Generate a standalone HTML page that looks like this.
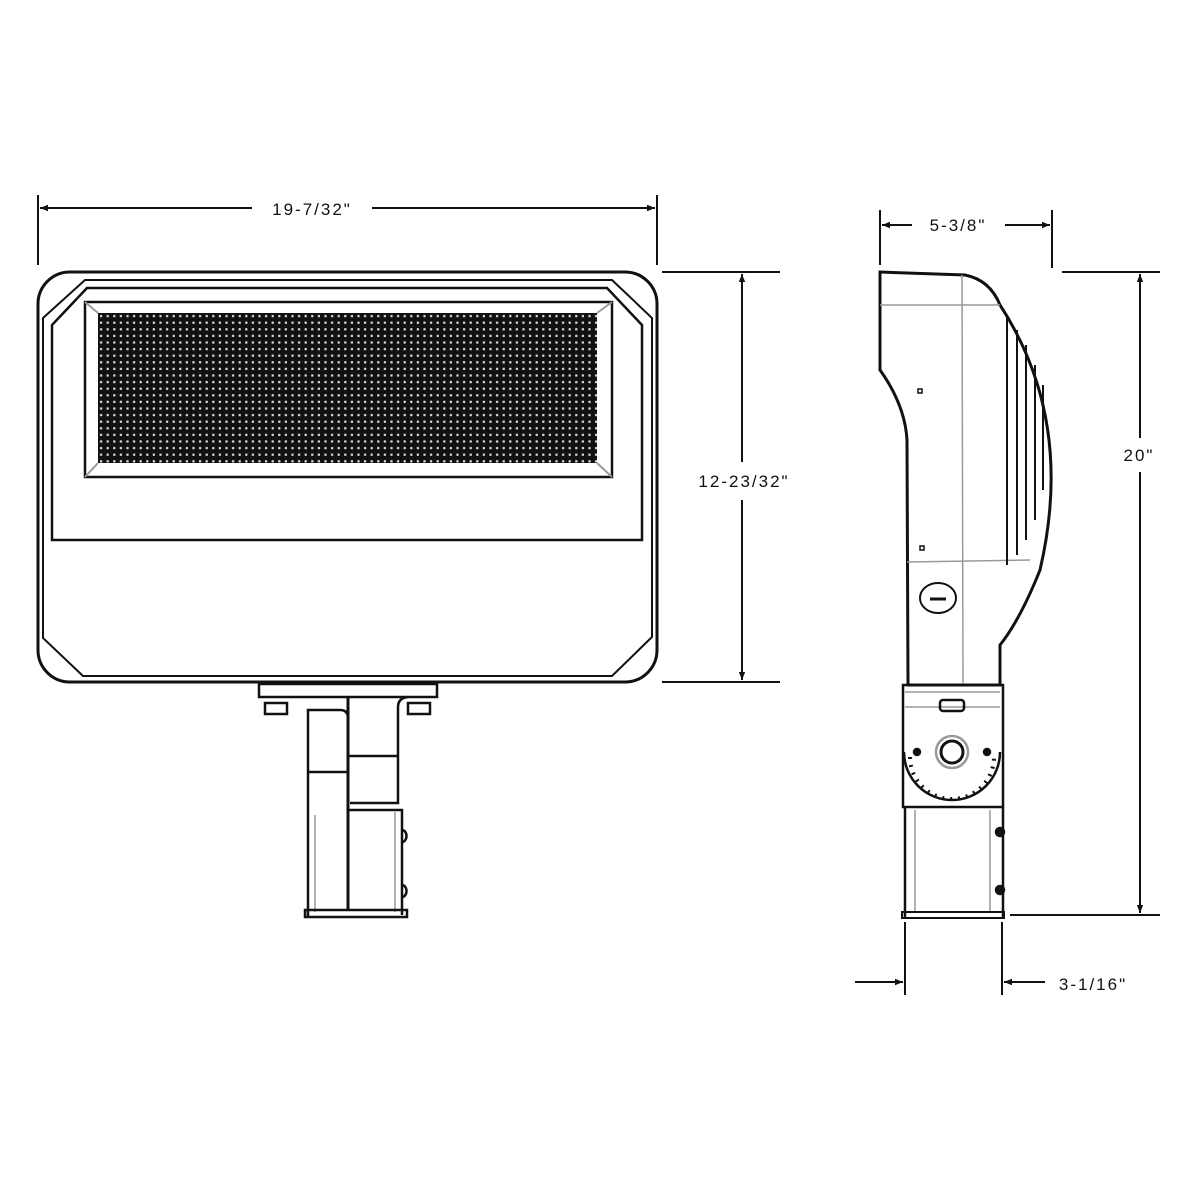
<!DOCTYPE html>
<html><head><style>
html,body{margin:0;padding:0;background:#fff;}
svg{display:block;}
text{font-family:"Liberation Sans",sans-serif;font-size:17px;letter-spacing:2px;fill:#111;}
</style></head><body>
<svg width="1200" height="1200" viewBox="0 0 1200 1200" xmlns="http://www.w3.org/2000/svg">
<defs>
<pattern id="dots" x="98" y="313" width="6.6" height="6.6" patternUnits="userSpaceOnUse">
<rect width="6.6" height="6.6" fill="#111"/>
<rect x="2" y="2" width="2.2" height="2.2" fill="#ddd"/>
</pattern>
<marker id="ar" viewBox="0 0 10 10" refX="10" refY="5" markerWidth="10" markerHeight="8" orient="auto-start-reverse" markerUnits="userSpaceOnUse">
<path d="M0,1 L10,5 L0,9 z" fill="#111"/>
</marker>
</defs>
<g fill="none" stroke="#111" stroke-width="2.5">
<!-- FRONT VIEW body -->
<rect x="38" y="272" width="619" height="410" rx="32" stroke-width="3"/>
<path d="M43,318 L85,280 L612,280 L652,318 L652,637 L612,676 L83,676 L43,638 Z" stroke-width="2"/>
<path d="M52,325 L87,288 L607,288 L642,325 L642,540 L52,540 Z" stroke-width="2.5"/>
<rect x="85" y="302" width="527" height="175" stroke-width="2.5"/>
<rect x="98" y="313" width="499" height="150" fill="url(#dots)" stroke="none"/>
<path d="M85,302 L98,313 M612,302 L597,313 M85,477 L98,463 M612,477 L597,463" stroke="#999" stroke-width="2"/>
<!-- mount -->
<rect x="259" y="684" width="178" height="13" stroke-width="2.5"/>
<rect x="265" y="703" width="22" height="11" stroke-width="2.5"/>
<rect x="408" y="703" width="22" height="11" stroke-width="2.5"/>
<path d="M348,697 L348,910" stroke-width="3"/>
<path d="M308,917 L308,710 L340,710 Q348,710 348,718"/>
<path d="M308,772 L348,772"/>
<path d="M348,756 L398,756 M350,803 L398,803 L398,707 Q398,698 408,697"/>
<path d="M348,810 L402,810 L402,915"/>
<path d="M402,830 a3,4 0 0 1 0,12 M402,885 a3,4 0 0 1 0,12"/>
<path d="M315,815 L315,912 M395,812 L395,912" stroke="#999" stroke-width="1.5"/>
<rect x="305" y="910" width="102" height="7" stroke-width="2.5"/>
<!-- SIDE VIEW -->
<path d="M880,272 L965,275 Q990,280 1000,305 Q1075,420 1040,570 Q1020,620 1000,645 L1000,685 L908,685 L907,440 Q905,405 880,370 Z" stroke-width="3"/>
<path d="M880,305 L1000,305 M907,562 L1030,560 M962,275 L963,683" stroke="#999" stroke-width="1.5"/>
<path d="M1007,315 L1007,565 M1017,330 L1017,555 M1026,345 L1026,540 M1035,365 L1035,520 M1043,385 L1043,490" stroke-width="2"/>
<ellipse cx="938" cy="598" rx="18" ry="15" stroke-width="2"/>
<path d="M930,599 L946,599" stroke-width="3"/>
<rect x="918" y="389" width="4" height="4" stroke-width="1.5"/>
<rect x="920" y="546" width="4" height="4" stroke-width="1.5"/>
<rect x="903" y="685" width="100" height="122" stroke-width="2.5"/>
<path d="M905,692 L1000,692 M905,707 L1000,707" stroke="#999" stroke-width="1.5"/>
<rect x="940" y="700" width="24" height="11" rx="3" stroke-width="2.5"/>
<circle cx="952" cy="752" r="16" stroke="#999" stroke-width="2.5"/>
<circle cx="952" cy="752" r="11" stroke-width="3"/>
<path d="M904,752 A48,48 0 0 0 1000,752" stroke-width="2.5"/>
<path d="M910,757 A42,42 0 0 0 994,757" stroke-width="4" stroke-dasharray="2,6"/>
<circle cx="917" cy="752" r="3" fill="#111"/>
<circle cx="987" cy="752" r="3" fill="#111"/>
<path d="M905,807 L905,918 M1003,807 L1003,918"/>
<path d="M915,810 L915,912 M990,810 L990,912" stroke="#999" stroke-width="1.5"/>
<circle cx="1000" cy="832" r="4" fill="#111"/>
<circle cx="1000" cy="890" r="4" fill="#111"/>
<rect x="902" y="912" width="102" height="6" stroke-width="2"/>
</g>
<!-- dimensions -->
<g stroke="#111" stroke-width="2" fill="none">
<line x1="38" y1="195" x2="38" y2="265"/>
<line x1="657" y1="195" x2="657" y2="265"/>
<line x1="40" y1="208" x2="252" y2="208" marker-start="url(#ar)"/>
<line x1="372" y1="208" x2="655" y2="208" marker-end="url(#ar)"/>
<line x1="662" y1="272" x2="780" y2="272"/>
<line x1="662" y1="682" x2="780" y2="682"/>
<line x1="742" y1="274" x2="742" y2="462" marker-start="url(#ar)"/>
<line x1="742" y1="500" x2="742" y2="680" marker-end="url(#ar)"/>
<line x1="880" y1="210" x2="880" y2="265"/>
<line x1="1052" y1="210" x2="1052" y2="268"/>
<line x1="882" y1="225" x2="912" y2="225" marker-start="url(#ar)"/>
<line x1="1005" y1="225" x2="1050" y2="225" marker-end="url(#ar)"/>
<line x1="1062" y1="272" x2="1160" y2="272"/>
<line x1="1010" y1="915" x2="1160" y2="915"/>
<line x1="1140" y1="274" x2="1140" y2="438" marker-start="url(#ar)"/>
<line x1="1140" y1="472" x2="1140" y2="913" marker-end="url(#ar)"/>
<line x1="905" y1="922" x2="905" y2="995"/>
<line x1="1002" y1="922" x2="1002" y2="995"/>
<line x1="855" y1="982" x2="903" y2="982" marker-end="url(#ar)"/>
<line x1="1045" y1="982" x2="1004" y2="982" marker-end="url(#ar)"/>
</g>
<text x="312" y="215" text-anchor="middle">19-7/32"</text>
<text x="744" y="487" text-anchor="middle">12-23/32"</text>
<text x="958" y="231" text-anchor="middle">5-3/8"</text>
<text x="1139" y="461" text-anchor="middle">20"</text>
<text x="1093" y="990" text-anchor="middle">3-1/16"</text>
</svg>
</body></html>
